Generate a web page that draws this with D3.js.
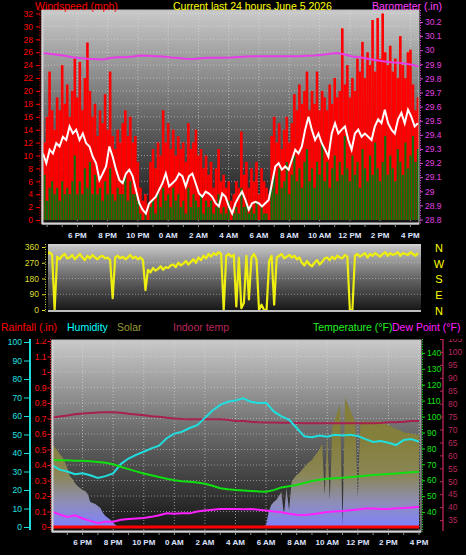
<!DOCTYPE html>
<html>
<head>
<meta charset="utf-8">
<script src="https://cdnjs.cloudflare.com/ajax/libs/d3/7.8.5/d3.min.js"></script>
<style>
html, body { margin: 0; padding: 0; background: #000; }
svg { display: block; font-family: "Liberation Sans", Arial, sans-serif; }
</style>
</head>
<body>
<div id="chart"></div>
<script>
//Colores fijos
const COLOR_GUST = '#ff0000',
    COLOR_SPEED = '#0c720c',
    COLOR_AVG = '#ffffff',
    COLOR_BARO = '#e83ce8',
    COLOR_DIR = '#eeee10',
    COLOR_RAIN = '#ff0000',
    COLOR_HUM = '#20dede',
    COLOR_TEMP = '#10e010',
    COLOR_DEW = '#ff20ff',
    COLOR_INDOOR = '#a8204e',
    COLOR_XLABEL = '#dde4ff';

//Datos (todas las series en muestras regulares desde su hora de inicio)
//Viento: rachas (rojo) y velocidad (verde), cada 10 min desde las 15:40
const gustMph = [15, 12, 16, 23, 17, 14, 19, 17, 24, 18,
    21, 16, 20, 25, 19, 24.5, 17, 22, 27.5, 20,
    16, 18, 13, 17, 15, 19.5, 14, 23, 13, 11,
    14, 12, 15, 17, 13, 16, 12, 13, 9, 5,
    3, 4, 2.5, 9, 11, 8, 12, 10, 17, 12,
    15, 11, 14, 10, 13, 11, 12, 9, 15, 11,
    12, 14, 10, 11, 8, 10, 7, 9, 5, 8,
    11, 6, 7, 5, 6, 3, 4, 6, 5, 13.7,
    7, 9, 5, 8, 6, 9, 4, 8, 6, 5,
    4, 13, 16, 12, 15, 11, 14, 16, 12, 15,
    19.5, 17, 21, 18, 20, 23, 17, 20, 18, 23,
    17, 20, 19, 17, 21, 18, 22, 19, 20, 29.7,
    21, 24, 19, 22, 20, 25, 23, 27.6, 22, 26,
    24, 31, 23, 31.3, 25, 32, 26, 24, 27, 23,
    25, 22, 28.5, 24, 22, 26, 26.4, 21, 17, 19];
const speedMph = [4, 7, 3, 5, 6, 4, 5, 3, 6, 4,
    5, 4, 6, 10, 4, 6, 4, 8, 5, 9,
    4, 7, 4, 5, 3, 6, 4, 8, 4, 3,
    5, 4, 4, 7, 3, 6, 4, 4, 3, 1,
    0, 1, 0, 2, 3, 1, 4, 2, 5, 3,
    4, 2, 5, 3, 4, 2, 3, 1, 5, 2,
    4, 3, 2, 4, 1, 3, 2, 3, 1, 2,
    4, 1, 2, 1, 3, 0, 1, 2, 1, 5,
    2, 3, 1, 2, 1, 3, 0, 2, 1, 1,
    0, 5, 7, 4, 8, 5, 6, 9, 4, 7,
    10, 6, 8, 5, 9, 11, 6, 8, 5, 9,
    7, 12, 6, 9, 5, 8, 10, 6, 9, 7,
    13, 8, 6, 10, 7, 9, 5, 11, 8, 6,
    10, 7, 12, 8, 6, 9, 13, 7, 10, 8,
    6, 11, 9, 7, 12, 8, 10, 13, 9, 11];
//Velocidad media (linea blanca), cada 13.15 min desde las 15:44
const avgMph = [10.3, 8.8, 10.9, 10.3, 11.9, 11.4, 12.9, 12.4, 14.5, 13.4,
    14.0, 12.4, 13.4, 11.9, 11.4, 9.8, 8.8, 6.2, 7.2, 8.3,
    11.4, 9.8, 7.8, 6.2, 5.7, 7.2, 7.8, 6.8, 4.7, 2.6,
    1.6, 1.0, 2.6, 3.1, 3.6, 4.7, 5.7, 7.2, 5.2, 5.7,
    6.2, 7.2, 6.8, 5.2, 6.8, 7.2, 5.7, 4.1, 3.6, 4.4,
    4.1, 3.6, 2.6, 2.1, 4.1, 3.6,
    2.1, 1.0, 2.6, 3.6, 4.4, 3.1, 1.6, 2.6, 2.8, 2.6,
    2.1, 2.6, 3.1, 5.7, 8.3, 8.8, 7.8, 8.3, 7.8, 9.3,
    10.9, 10.3, 11.4, 14.0, 16.0, 14.0, 12.4, 13.4, 11.9, 10.9,
    9.8, 13.4, 15.0, 13.4, 14.0, 14.5, 12.4, 10.9, 13.4, 14.0,
    12.9, 13.4, 12.9, 12.4, 14.5, 15.6, 15.0, 17.1, 15.0, 14.0,
    13.4, 15.6, 16.6, 15.0, 17.1, 16.0, 14.5, 15.0];
//Barometro, cada 30 min desde las 15:40
const baroIn = [29.98, 29.975, 29.968, 29.96, 29.95, 29.945, 29.94, 29.937, 29.935, 29.945,
    29.95, 29.95, 29.955, 29.962, 29.96, 29.957, 29.955, 29.948, 29.945, 29.94,
    29.938, 29.943, 29.946, 29.946, 29.946, 29.948, 29.952, 29.955, 29.957, 29.957,
    29.957, 29.957, 29.957, 29.958, 29.958, 29.96, 29.962, 29.967, 29.975, 29.98,
    29.97, 29.955, 29.95, 29.94, 29.93, 29.922, 29.915, 29.912, 29.905, 29.895, 29.882];
//Direccion del viento (grados), cada 10 min desde las 16:00
const windDir = [320, 330, 315, 0, 305, 290, 310, 320, 295, 300,
    315, 290, 305, 320, 300, 285, 310, 295, 315, 300,
    290, 305, 310, 295, 300, 285, 68, 300, 310, 295,
    305, 290, 300, 315, 295, 305, 290, 300, 285, 114,
    230, 215, 240, 225, 235, 250, 230, 245, 240, 255,
    260, 245, 270, 255, 265, 280, 260, 275, 290, 270,
    300, 285, 310, 295, 320, 305, 325, 315, 330, 320,
    0, 310, 320, 305, 315, 20, 300, 10, 40, 310,
    60, 300, 320, 290, 0, 30, 0, 0, 280, 310,
    30, 300, 310, 320, 295, 305, 315, 300, 310, 290,
    300, 270, 255, 280, 260, 250, 270, 285, 260, 275,
    295, 300, 285, 305, 290, 310, 300, 295, 315, 305,
    0, 0, 310, 320, 305, 315, 325, 300, 320, 310,
    325, 315, 305, 320, 330, 310, 325, 315, 320, 330,
    310, 325, 320, 315, 330, 320, 310, 325];
//Grafico inferior: cada 30 min desde las 16:00
const humidity = [33.5, 31, 30, 28.5, 29, 28, 26.5, 27.5, 29, 34,
    37, 39, 40.7, 42.5, 44, 48, 50.5, 51.5, 53.5, 55,
    59, 63, 66, 67.7, 68.4, 69.6, 67.7, 67, 67.2, 62.5,
    59.8, 58, 53.5, 49, 48.5, 49.5, 48.8, 49.8, 49.5, 49.8,
    49.2, 47.5, 46, 46.5, 45.5, 44.3, 47, 47.5, 46.1];
const tempF = [72.7, 72.6, 72.5, 72.3, 72.2, 71.9, 71.5, 71.0, 70.0, 68.5,
    67.0, 65.6, 64.3, 63.2, 62.0, 61.0, 60.0, 59.4, 59.0, 58.6,
    57.8, 56.5, 55.0, 54.3, 53.9, 53.6, 53.3, 53.0, 52.8, 53.8,
    55.5, 56.3, 57.0, 58.3, 59.5, 60.3, 61.0, 61.3, 61.5, 61.9,
    62.3, 62.8, 63.3, 63.6, 64.0, 64.3, 64.7, 65.0, 65.4];
const dewF = [40.2, 38.5, 37.0, 38.0, 36.0, 34.5, 33.0, 34.0, 34.0, 35.2,
    35.7, 36.0, 36.3, 37.0, 38.0, 39.2, 39.0, 39.3, 39.2, 40.3,
    41.0, 41.4, 41.9, 42.0, 41.9, 41.8, 41.9, 41.5, 41.0, 40.3,
    39.9, 39.0, 38.4, 38.2, 38.6, 39.2, 40.0, 40.4, 40.7, 41.2,
    41.6, 42.3, 42.2, 41.9, 42.0, 42.4, 42.5, 42.9, 43.4];
const indoorF = [74.6, 75.0, 75.4, 75.9, 76.2, 76.4, 76.6, 76.7, 76.7, 76.5,
    76.1, 75.8, 75.5, 75.1, 74.9, 74.6, 74.3, 74.1, 74.0, 74.0,
    74.0, 74.0, 74.0, 73.8, 73.3, 73.3, 73.0, 72.8, 72.7, 72.7,
    72.6, 72.6, 72.5, 72.4, 72.4, 72.4, 72.4, 72.4, 72.4, 72.4,
    72.4, 72.4, 72.4, 72.5, 72.8, 72.8, 73.0, 73.3, 73.3];
//Lluvia, cada hora desde las 16:00
const rainIn = [0, 0, 0, 0, 0, 0, 0, 0, 0, 0, 0, 0, 0, 0, 0, 0, 0, 0, 0, 0, 0, 0, 0, 0, 0];
//Radiacion solar (W/m2), cada 10 min desde las 16:00
const solarW = [526, 513, 494, 468, 449, 417, 379, 327, 308, 282,
    263, 250, 237, 231, 212, 160, 154, 148, 135, 122,
    90, 71, 58, 45, 26, 13, 0, 0, 0, 0,
    0, 0, 0, 0, 0, 0, 0, 0, 0, 0,
    0, 0, 0, 0, 0, 0, 0, 0, 0, 0,
    0, 0, 0, 0, 0, 0, 0, 0, 0, 0,
    0, 0, 0, 0, 0, 0, 0, 0, 0, 0,
    0, 0, 0, 0, 0, 0, 0, 0, 0, 0,
    0, 0, 0, 6, 13, 96, 141, 160, 173, 199,
    225, 77, 250, 109, 289, 314, 334, 347, 366, 385,
    404, 417, 430, 456, 475, 500, 533, 205, 584, 173,
    635, 687, 738, 790, 13, 830, 790, 751, 712, 674,
    186, 667, 680, 674, 674, 680, 674, 674, 680, 674,
    667, 661, 655, 648, 635, 629, 622, 616, 610, 603,
    603, 597, 597, 590, 590];
//Marcas del eje de tiempo
const tickHours = [18, 20, 22, 24, 26, 28, 30, 32, 34, 36, 38, 40];
const tickLabels = ['6 PM', '8 PM', '10 PM', '0 AM', '2 AM', '4 AM', '6 AM', '8 AM', '10 AM', '12 PM', '2 PM', '4 PM'];
const dirLetters = ['N', 'W', 'S', 'E', 'N'];
const dirLetterDeg = [360, 270, 180, 90, 0];

//Tiempo
const MIN = 60000;
const day0 = Date.UTC(2026, 5, 4);
const at = h => new Date(day0 + h * 3600000);
const series = (startH, stepMin, values) => values.map((v, i) => ({ t: new Date(at(startH).getTime() + i * stepMin * MIN), v: v }));

const W = 466, H = 555;
const svg = d3.select('#chart').append('svg').attr('width', W).attr('height', H);
const defs = svg.append('defs');

//Degradado del fondo de los graficos
let bg = defs.append('linearGradient').attr('id', 'bgGrad').attr('x1', 0).attr('y1', 0).attr('x2', 0).attr('y2', 1);
bg.append('stop').attr('offset', 0).attr('stop-color', '#cacaca');
bg.append('stop').attr('offset', 0.5).attr('stop-color', '#666666');
bg.append('stop').attr('offset', 1).attr('stop-color', '#131313');

function clip(id, x0, y0, x1, y1) {
    defs.append('clipPath').attr('id', id).append('rect')
        .attr('x', x0).attr('y', y0).attr('width', x1 - x0).attr('height', y1 - y0);
}

function plotBox(x0, y0, x1, y1) {
    svg.append('rect').attr('x', x0).attr('y', y0).attr('width', x1 - x0).attr('height', y1 - y0)
        .attr('fill', 'url(#bgGrad)');
}

function frame(x0, y0, x1, y1) {
    svg.append('rect').attr('x', x0).attr('y', y0).attr('width', x1 - x0).attr('height', y1 - y0)
        .attr('fill', 'none').attr('stroke', '#bdbdbd').attr('stroke-width', 1);
    svg.append('line').attr('x1', x0 + 0.5).attr('x2', x0 + 0.5).attr('y1', y0).attr('y2', y1)
        .attr('stroke', '#d4d4d4').attr('stroke-width', 2);
    svg.append('line').attr('x1', x0).attr('x2', x1).attr('y1', y1 - 0.5).attr('y2', y1 - 0.5)
        .attr('stroke', '#d4d4d4').attr('stroke-width', 2);
}

function styleAxis(g, color) {
    g.select('.domain').remove();
    g.selectAll('.tick line').attr('stroke', color);
    g.selectAll('.tick text').attr('fill', color).style('font-size', '8.5px');
}

function vline(x, y0, y1, color, dash, width) {
    svg.append('line').attr('x1', x).attr('x2', x).attr('y1', y0).attr('y2', y1)
        .attr('stroke', color).attr('stroke-width', width || 1).attr('stroke-dasharray', dash || null);
}

function text(x, y, str, color, size, anchor) {
    svg.append('text').attr('x', x).attr('y', y).attr('fill', color)
        .attr('text-anchor', anchor || 'start').style('font-size', size).text(str);
}

/////
// GRAFICO SUPERIOR - VIENTO Y BAROMETRO
/////
const TOP = { x0: 42, y0: 10, x1: 419, y1: 224 };
const xTop = d3.scaleUtc().domain([at(15 + 40 / 60), at(40.5)]).range([42, 418]);
const ySpeed = d3.scaleLinear().domain([0, 32]).range([220, 13.5]);
const yBaro = d3.scaleLinear().domain([28.8, 30.2]).range([219.5, 22]);

clip('clipTop', TOP.x0, TOP.y0, TOP.x1, TOP.y1);
plotBox(TOP.x0, TOP.y0, TOP.x1, TOP.y1);

let gTop = svg.append('g').attr('clip-path', 'url(#clipTop)');
//Rejilla
gTop.selectAll('.hgrid').data(d3.range(2, 33, 2)).enter().append('line')
    .attr('x1', TOP.x0).attr('x2', TOP.x1)
    .attr('y1', d => ySpeed(d)).attr('y2', d => ySpeed(d))
    .attr('stroke', '#dedede').attr('stroke-opacity', 0.55).attr('stroke-dasharray', '1,2');
gTop.selectAll('.vgrid').data(tickHours).enter().append('line')
    .attr('x1', d => xTop(at(d))).attr('x2', d => xTop(at(d)))
    .attr('y1', TOP.y0).attr('y2', TOP.y1)
    .attr('stroke', '#e0e0e0').attr('stroke-opacity', 0.6).attr('stroke-dasharray', '1,2');

//Barras de rachas y velocidad
const gustData = series(15 + 40 / 60, 10, gustMph);
const speedData = series(15 + 40 / 60, 10, speedMph);
gTop.selectAll('.gust').data(gustData).enter().append('rect')
    .attr('x', d => xTop(d.t) - 1.3).attr('width', 2.6)
    .attr('y', d => ySpeed(d.v)).attr('height', d => ySpeed(0) - ySpeed(d.v))
    .attr('fill', COLOR_GUST);
gTop.selectAll('.speed').data(speedData).enter().append('rect')
    .attr('x', d => xTop(d.t) - 1).attr('width', 2)
    .attr('y', d => ySpeed(d.v)).attr('height', d => ySpeed(0) - ySpeed(d.v))
    .attr('fill', COLOR_SPEED);

//Velocidad media
gTop.append('path').datum(series(15 + 44 / 60, 13.15, avgMph))
    .attr('d', d3.line().x(d => xTop(d.t)).y(d => ySpeed(d.v)))
    .attr('fill', 'none').attr('stroke', COLOR_AVG).attr('stroke-width', 2);

//Barometro
gTop.append('path').datum(series(15 + 40 / 60, 30, baroIn))
    .attr('d', d3.line().x(d => xTop(d.t)).y(d => yBaro(d.v)))
    .attr('fill', 'none').attr('stroke', COLOR_BARO).attr('stroke-width', 2);

frame(TOP.x0, TOP.y0, TOP.x1, TOP.y1);

//Ejes
vline(40, TOP.y0, TOP.y1, '#ff0000', '1,1.5');
let axSpeed = svg.append('g').attr('transform', 'translate(40,0)')
    .call(d3.axisLeft(ySpeed).tickValues(d3.range(0, 33, 2)).tickSize(4).tickPadding(3).tickSizeOuter(0));
styleAxis(axSpeed, '#ff0000');

vline(420.5, TOP.y0, TOP.y1, '#e040e0', '1,1.5');
let axBaro = svg.append('g').attr('transform', 'translate(420,0)')
    .call(d3.axisRight(yBaro).tickValues(d3.range(288, 303).map(d => d / 10)).tickSize(3).tickPadding(2).tickSizeOuter(0)
        .tickFormat(d => String(+d.toFixed(1))));
styleAxis(axBaro, '#e040e0');

//Marcas horarias bajo el grafico
svg.selectAll('.tickTop').data(d3.range(16, 41)).enter().append('line')
    .attr('x1', d => xTop(at(d))).attr('x2', d => xTop(at(d)))
    .attr('y1', TOP.y1).attr('y2', TOP.y1 + 3)
    .attr('stroke', '#909090');
svg.selectAll('.labTop').data(tickHours).enter().append('text')
    .attr('x', d => xTop(at(d))).attr('y', 238)
    .attr('text-anchor', 'middle').attr('fill', COLOR_XLABEL)
    .style('font-size', '8px').style('font-weight', 'bold')
    .text((d, i) => tickLabels[i]);

//Titulos
text(35, 9.5, 'Windspeed (mph)', '#ff0000', '10.5px');
text(173, 9.5, 'Current last 24 hours June 5 2026', '#ffff00', '10.5px');
text(372, 9.5, 'Barometer (.in)', '#ff40ff', '10.5px');

/////
// DIRECCION DEL VIENTO
/////
const WIND = { x0: 48, y0: 244, x1: 421, y1: 312 };
const yDir = d3.scaleLinear().domain([0, 360]).range([310, 247]);

clip('clipWind', WIND.x0, WIND.y0, WIND.x1, WIND.y1);
plotBox(WIND.x0, WIND.y0, WIND.x1, WIND.y1);
let gWind = svg.append('g').attr('clip-path', 'url(#clipWind)');
gWind.selectAll('.hgrid').data([90, 180, 270]).enter().append('line')
    .attr('x1', WIND.x0).attr('x2', WIND.x1)
    .attr('y1', d => yDir(d)).attr('y2', d => yDir(d))
    .attr('stroke', '#dedede').attr('stroke-opacity', 0.5).attr('stroke-dasharray', '1,2');
gWind.append('path').datum(series(16, 10, windDir))
    .attr('d', d3.line().x(d => xTop(d.t)).y(d => yDir(d.v)))
    .attr('fill', 'none').attr('stroke', COLOR_DIR).attr('stroke-width', 2.2).attr('stroke-linejoin', 'round');
svg.append('line').attr('x1', WIND.x0).attr('x2', WIND.x1).attr('y1', WIND.y0 + 1).attr('y2', WIND.y0 + 1)
    .attr('stroke', '#cfcfcf').attr('stroke-width', 2);
svg.append('line').attr('x1', WIND.x0).attr('x2', WIND.x1).attr('y1', WIND.y1 - 1).attr('y2', WIND.y1 - 1)
    .attr('stroke', '#bdbdbd').attr('stroke-width', 2);

vline(45.5, WIND.y0, WIND.y1, '#d8d830', '1,1.5');
let axDir = svg.append('g').attr('transform', 'translate(45,0)')
    .call(d3.axisLeft(yDir).tickValues([0, 90, 180, 270, 360]).tickSize(3).tickPadding(3).tickSizeOuter(0));
styleAxis(axDir, '#dede30');

svg.selectAll('.dirLetter').data(dirLetterDeg).enter().append('text')
    .attr('x', 439).attr('y', d => yDir(d) + 2)
    .attr('text-anchor', 'middle').attr('dominant-baseline', 'middle')
    .attr('fill', '#ffff00').style('font-size', '11px')
    .text((d, i) => dirLetters[i]);

/////
// GRAFICO INFERIOR - TEMPERATURAS, HUMEDAD, SOLAR, LLUVIA
/////
const BOT = { x0: 52, y0: 340, x1: 421, y1: 532 };
const xBot = d3.scaleUtc().domain([at(16), at(40)]).range([52, 419]);
const yHum = d3.scaleLinear().domain([0, 100]).range([527, 342]);
const yRain = d3.scaleLinear().domain([0, 1.2]).range([527, 341]);
const yTemp = d3.scaleLinear().domain([30, 150]).range([528, 337]);
const yIndoor = d3.scaleLinear().domain([30, 105]).range([533, 339]);
const ySolar = d3.scaleLinear().domain([0, 1200]).range([527, 340]);

clip('clipBot', BOT.x0, BOT.y0, BOT.x1, BOT.y1);
clip('clipBotAxes', 0, 339, W, H);
plotBox(BOT.x0, BOT.y0, BOT.x1, BOT.y1);

//Degradado del area solar
let sg = defs.append('linearGradient').attr('id', 'solarGrad').attr('gradientUnits', 'userSpaceOnUse')
    .attr('x1', 0).attr('y1', 440).attr('x2', 0).attr('y2', 527);
sg.append('stop').attr('offset', 0).attr('stop-color', '#857f3c');
sg.append('stop').attr('offset', 0.4).attr('stop-color', '#8a8656');
sg.append('stop').attr('offset', 0.72).attr('stop-color', '#8e8eb8');
sg.append('stop').attr('offset', 1).attr('stop-color', '#7f80ff');

let gBot = svg.append('g').attr('clip-path', 'url(#clipBot)');
gBot.selectAll('.hgrid').data(d3.range(1, 12).map(d => d / 10)).enter().append('line')
    .attr('x1', BOT.x0).attr('x2', BOT.x1)
    .attr('y1', d => yRain(d)).attr('y2', d => yRain(d))
    .attr('stroke', '#dedede').attr('stroke-opacity', 0.5).attr('stroke-dasharray', '1,2');
gBot.selectAll('.vgrid').data(tickHours).enter().append('line')
    .attr('x1', d => xBot(at(d))).attr('x2', d => xBot(at(d)))
    .attr('y1', BOT.y0).attr('y2', BOT.y1)
    .attr('stroke', '#e0e0e0').attr('stroke-opacity', 0.6).attr('stroke-dasharray', '1,2');

gBot.append('path').datum(series(16, 10, solarW))
    .attr('d', d3.area().x(d => xBot(d.t)).y0(ySolar(0)).y1(d => ySolar(d.v)))
    .attr('fill', 'url(#solarGrad)');

function botLine(data, y, color, width) {
    gBot.append('path').datum(data)
        .attr('d', d3.line().x(d => xBot(d.t)).y(d => y(d.v)))
        .attr('fill', 'none').attr('stroke', color).attr('stroke-width', width);
}
botLine(series(16, 30, indoorF), yIndoor, COLOR_INDOOR, 2);
botLine(series(16, 30, humidity), yHum, COLOR_HUM, 2);
botLine(series(16, 30, tempF), yTemp, COLOR_TEMP, 2);
botLine(series(16, 30, dewF), yTemp, COLOR_DEW, 2);
botLine(series(16, 60, rainIn), yRain, COLOR_RAIN, 3);

frame(BOT.x0, BOT.y0, BOT.x1, BOT.y1);

//Ejes del grafico inferior
let gAxBot = svg.append('g').attr('clip-path', 'url(#clipBotAxes)');
gAxBot.append('line').attr('x1', 30).attr('x2', 30).attr('y1', 339).attr('y2', 530)
    .attr('stroke', COLOR_HUM).attr('stroke-width', 2);
let axHum = gAxBot.append('g').attr('transform', 'translate(29,0)')
    .call(d3.axisLeft(yHum).tickValues(d3.range(0, 101, 10)).tickSize(5).tickPadding(2).tickSizeOuter(0));
styleAxis(axHum, '#20e0e0');

gAxBot.append('line').attr('x1', 50.5).attr('x2', 50.5).attr('y1', 339).attr('y2', 530)
    .attr('stroke', '#ff2020').attr('stroke-dasharray', '1,1.5');
let axRain = gAxBot.append('g').attr('transform', 'translate(50.5,0)')
    .call(d3.axisLeft(yRain).tickValues(d3.range(0, 13).map(d => d / 10)).tickSize(3).tickPadding(1).tickSizeOuter(0)
        .tickFormat(d => String(+d.toFixed(1))));
styleAxis(axRain, '#ff1010');

gAxBot.append('line').attr('x1', 422.5).attr('x2', 422.5).attr('y1', 339).attr('y2', 532)
    .attr('stroke', '#10e010').attr('stroke-dasharray', '1,1.5');
let axTemp = gAxBot.append('g').attr('transform', 'translate(422,0)')
    .call(d3.axisRight(yTemp).tickValues(d3.range(40, 141, 10)).tickSize(3).tickPadding(2).tickSizeOuter(0));
styleAxis(axTemp, '#10e010');

gAxBot.append('line').attr('x1', 443).attr('x2', 443).attr('y1', 339).attr('y2', 531)
    .attr('stroke', COLOR_INDOOR).attr('stroke-width', 1.5);
let axIndoor = gAxBot.append('g').attr('transform', 'translate(443,0)')
    .call(d3.axisRight(yIndoor).tickValues(d3.range(35, 106, 5)).tickSizeInner(-3).tickPadding(5).tickSizeOuter(0));
styleAxis(axIndoor, '#b8285c');

svg.selectAll('.tickBot').data(d3.range(17, 41)).enter().append('line')
    .attr('x1', d => xBot(at(d))).attr('x2', d => xBot(at(d)))
    .attr('y1', BOT.y1).attr('y2', BOT.y1 + 3)
    .attr('stroke', '#909090');
svg.selectAll('.labBot').data(tickHours).enter().append('text')
    .attr('x', d => xBot(at(d))).attr('y', 545)
    .attr('text-anchor', 'middle').attr('fill', COLOR_XLABEL)
    .style('font-size', '8px').style('font-weight', 'bold')
    .text((d, i) => tickLabels[i]);

//Leyenda
text(1, 331, 'Rainfall (.in)', '#ff0000', '10.5px');
text(67, 331, 'Humidity', '#00ffff', '10.5px');
text(117, 331, 'Solar', '#999933', '10.5px');
text(173, 331, 'Indoor temp', '#b8285c', '10.5px');
text(313, 331, 'Temperature (\u00b0F)', '#20f020', '10.5px');
text(392, 331, 'Dew Point (\u00b0F)', '#ff20ff', '10.5px');
</script>
</body>
</html>
